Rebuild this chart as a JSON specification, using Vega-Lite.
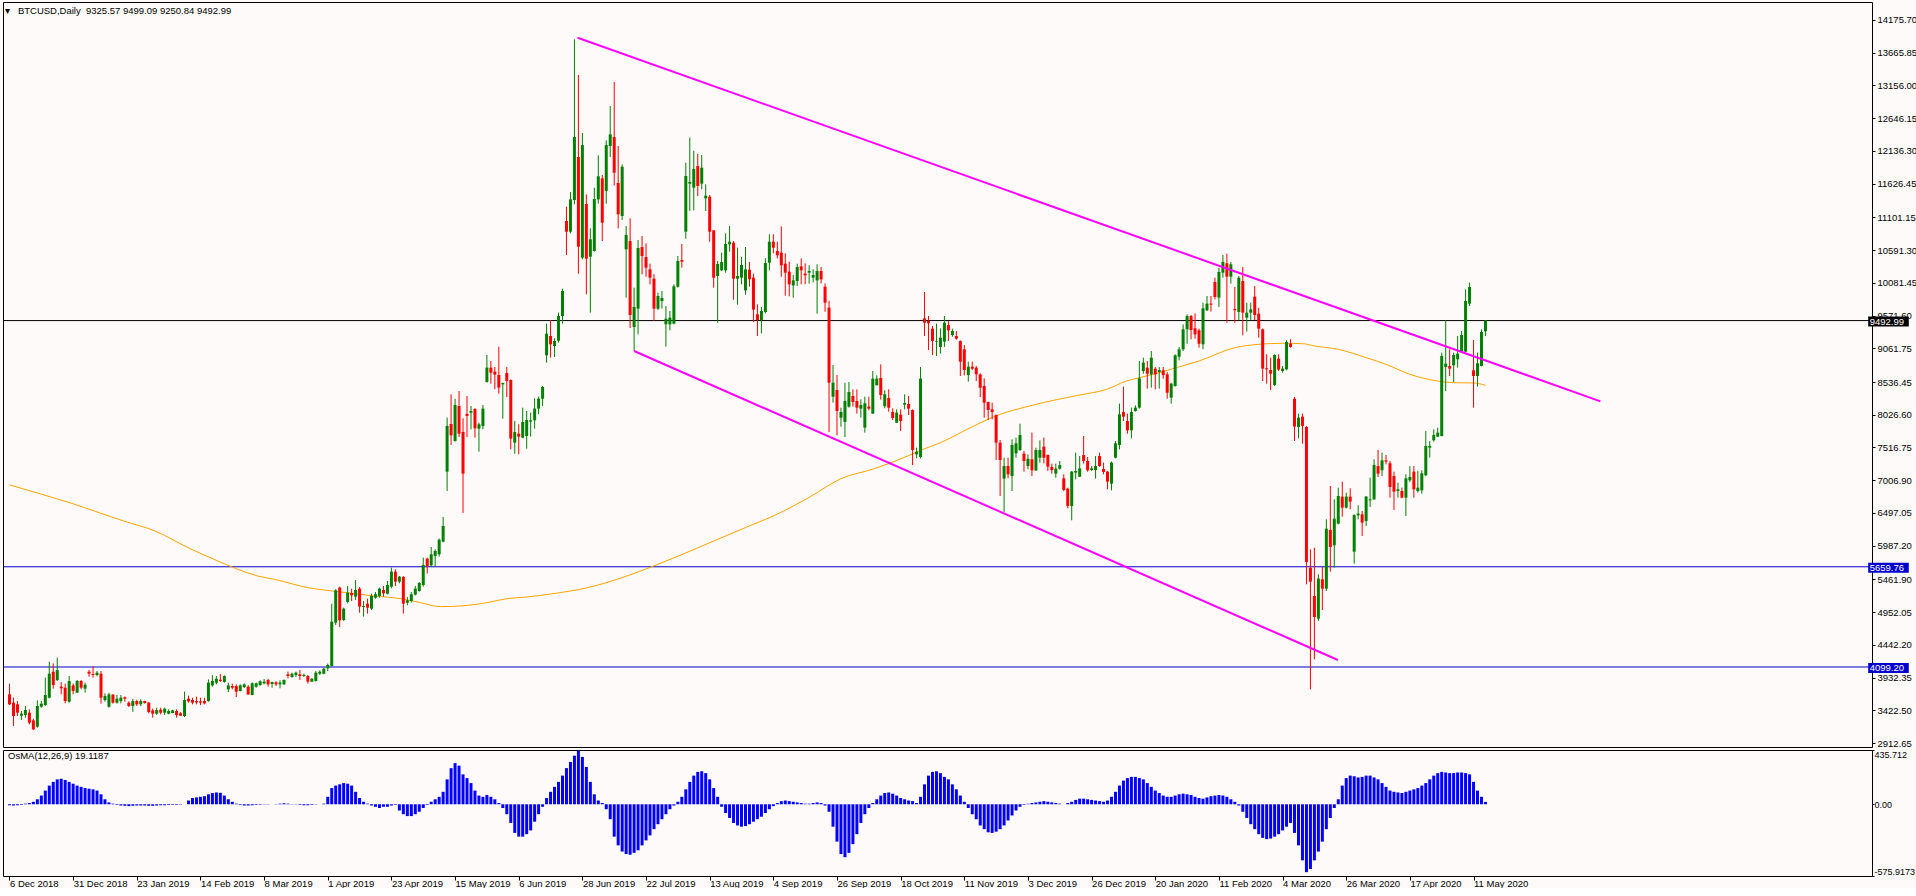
{
"$schema":"https://vega.github.io/schema/vega-lite/v6.json",
"background":"#FFFAFA",
"padding":{"left":2,"top":1,"right":0,"bottom":0},
"bounds":"flush",
"spacing":3,
"config":{"view":{"stroke":"#000000","strokeWidth":1},"axis":{"labelFont":"Liberation Sans","labelFontSize":9.5,"labelColor":"#000000","tickColor":"#000000","domain":false,"grid":false,"zindex":0},"title":{"font":"Liberation Sans","fontSize":9.5,"fontWeight":"normal","color":"#000000"}},
"datasets":{
"lines":[{"p":9492.99,"t":"9492.99","col":"#000000"},{"p":5659.76,"t":"5659.76","col":"#0000CD"},{"p":4099.2,"t":"4099.20","col":"#0000CD"}],
"trend":[{"g":"u","i":142.8,"p":13897},{"g":"u","i":399.9,"p":8235},{"g":"l","i":157.0,"p":9019},{"g":"l","i":333.9,"p":4208}],
"ma":[{"i":0,"v":6935},{"i":8,"v":6790},{"i":16,"v":6640},{"i":24,"v":6470},{"i":28.7,"v":6372},{"i":36.6,"v":6216},{"i":44.9,"v":5957},{"i":52.4,"v":5749},{"i":57.4,"v":5620},{"i":62.4,"v":5516},{"i":66.6,"v":5464},{"i":75,"v":5335},{"i":83.3,"v":5267},{"i":91.6,"v":5205},{"i":98.3,"v":5163},{"i":103.3,"v":5101},{"i":108.3,"v":5039},{"i":113.3,"v":5049},{"i":120,"v":5101},{"i":125,"v":5163},{"i":130,"v":5189},{"i":136.6,"v":5241},{"i":145,"v":5330},{"i":153,"v":5470},{"i":161,"v":5650},{"i":169,"v":5850},{"i":177,"v":6060},{"i":185,"v":6270},{"i":193,"v":6480},{"i":201,"v":6740},{"i":209,"v":7032},{"i":217.4,"v":7187},{"i":225.75,"v":7384},{"i":229,"v":7473},{"i":234,"v":7592},{"i":242.4,"v":7852},{"i":249,"v":8033},{"i":255.75,"v":8153},{"i":262.4,"v":8251},{"i":269,"v":8334},{"i":275.75,"v":8422},{"i":280.75,"v":8552},{"i":284,"v":8604},{"i":289,"v":8682},{"i":292.4,"v":8744},{"i":299,"v":8864},{"i":308,"v":9071},{"i":314,"v":9123},{"i":320,"v":9139},{"i":325,"v":9133},{"i":328,"v":9098},{"i":334,"v":9045},{"i":341,"v":8916},{"i":346,"v":8812},{"i":352,"v":8656},{"i":359,"v":8552},{"i":363,"v":8526},{"i":368,"v":8521},{"i":371,"v":8485}],
"bars":[
{"i":0,"o":3673,"h":3840,"l":3507,"c":3518,"v":-8},
{"i":1,"o":3544,"h":3621,"l":3180,"c":3336,"v":-10},
{"i":2,"o":3518,"h":3569,"l":3336,"c":3388,"v":-8},
{"i":3,"o":3341,"h":3414,"l":3274,"c":3372,"v":-5},
{"i":4,"o":3352,"h":3492,"l":3310,"c":3429,"v":5},
{"i":5,"o":3388,"h":3440,"l":3206,"c":3232,"v":10},
{"i":6,"o":3268,"h":3294,"l":3118,"c":3128,"v":20},
{"i":7,"o":3170,"h":3580,"l":3154,"c":3492,"v":40},
{"i":8,"o":3481,"h":3569,"l":3466,"c":3528,"v":70},
{"i":9,"o":3507,"h":3933,"l":3492,"c":3663,"v":110},
{"i":10,"o":3621,"h":4182,"l":3611,"c":3995,"v":150},
{"i":11,"o":4026,"h":4156,"l":3762,"c":3819,"v":180},
{"i":12,"o":3896,"h":4244,"l":3881,"c":4052,"v":200},
{"i":13,"o":3793,"h":3865,"l":3673,"c":3767,"v":205},
{"i":14,"o":3777,"h":3840,"l":3533,"c":3569,"v":195},
{"i":15,"o":3559,"h":3959,"l":3544,"c":3881,"v":180},
{"i":16,"o":3813,"h":3840,"l":3673,"c":3725,"v":165},
{"i":17,"o":3699,"h":3896,"l":3694,"c":3881,"v":150},
{"i":18,"o":3881,"h":3896,"l":3751,"c":3777,"v":140},
{"i":19,"o":3762,"h":3855,"l":3699,"c":3824,"v":130},
{"i":20,"o":4026,"h":4052,"l":3949,"c":3995,"v":125},
{"i":21,"o":3990,"h":4109,"l":3933,"c":3974,"v":120},
{"i":22,"o":3974,"h":4037,"l":3954,"c":4011,"v":110},
{"i":23,"o":3995,"h":4037,"l":3528,"c":3621,"v":80},
{"i":24,"o":3585,"h":3689,"l":3559,"c":3647,"v":40},
{"i":25,"o":3481,"h":3699,"l":3466,"c":3673,"v":15},
{"i":26,"o":3668,"h":3679,"l":3528,"c":3544,"v":5},
{"i":27,"o":3544,"h":3663,"l":3528,"c":3606,"v":-5},
{"i":28,"o":3569,"h":3663,"l":3533,"c":3621,"v":-10},
{"i":29,"o":3627,"h":3642,"l":3559,"c":3606,"v":-12},
{"i":30,"o":3544,"h":3564,"l":3476,"c":3492,"v":-15},
{"i":31,"o":3492,"h":3601,"l":3403,"c":3569,"v":-12},
{"i":32,"o":3569,"h":3590,"l":3492,"c":3518,"v":-10},
{"i":33,"o":3518,"h":3595,"l":3492,"c":3569,"v":-10},
{"i":34,"o":3569,"h":3575,"l":3528,"c":3538,"v":-10},
{"i":35,"o":3544,"h":3554,"l":3378,"c":3398,"v":-12},
{"i":36,"o":3424,"h":3450,"l":3310,"c":3372,"v":-12},
{"i":37,"o":3372,"h":3466,"l":3352,"c":3429,"v":-10},
{"i":38,"o":3434,"h":3466,"l":3362,"c":3388,"v":-8},
{"i":39,"o":3388,"h":3466,"l":3352,"c":3450,"v":-8},
{"i":40,"o":3372,"h":3440,"l":3362,"c":3414,"v":-6},
{"i":41,"o":3383,"h":3434,"l":3378,"c":3424,"v":-5},
{"i":42,"o":3414,"h":3440,"l":3310,"c":3352,"v":-5},
{"i":43,"o":3378,"h":3398,"l":3336,"c":3341,"v":-3},
{"i":44,"o":3336,"h":3715,"l":3320,"c":3585,"v":0},
{"i":45,"o":3606,"h":3653,"l":3544,"c":3564,"v":30},
{"i":46,"o":3585,"h":3621,"l":3518,"c":3544,"v":50},
{"i":47,"o":3569,"h":3637,"l":3518,"c":3549,"v":55},
{"i":48,"o":3564,"h":3621,"l":3507,"c":3544,"v":60},
{"i":49,"o":3569,"h":3621,"l":3518,"c":3533,"v":65},
{"i":50,"o":3569,"h":3907,"l":3559,"c":3855,"v":80},
{"i":51,"o":3813,"h":3974,"l":3793,"c":3881,"v":90},
{"i":52,"o":3855,"h":3959,"l":3829,"c":3917,"v":95},
{"i":53,"o":3902,"h":3990,"l":3865,"c":3881,"v":92},
{"i":54,"o":3865,"h":3969,"l":3855,"c":3959,"v":70},
{"i":55,"o":3751,"h":3855,"l":3710,"c":3813,"v":40},
{"i":56,"o":3803,"h":3840,"l":3751,"c":3777,"v":20},
{"i":57,"o":3803,"h":3829,"l":3632,"c":3715,"v":5},
{"i":58,"o":3725,"h":3829,"l":3720,"c":3813,"v":-5},
{"i":59,"o":3788,"h":3845,"l":3772,"c":3829,"v":-10},
{"i":60,"o":3793,"h":3819,"l":3663,"c":3673,"v":-10},
{"i":61,"o":3663,"h":3860,"l":3658,"c":3845,"v":-8},
{"i":62,"o":3793,"h":3855,"l":3777,"c":3845,"v":-5},
{"i":63,"o":3819,"h":3891,"l":3803,"c":3876,"v":-3},
{"i":64,"o":3845,"h":3912,"l":3829,"c":3870,"v":-2},
{"i":65,"o":3896,"h":3917,"l":3793,"c":3829,"v":-2},
{"i":66,"o":3834,"h":3870,"l":3777,"c":3865,"v":0},
{"i":67,"o":3860,"h":3876,"l":3803,"c":3829,"v":2},
{"i":68,"o":3830,"h":3892,"l":3767,"c":3856,"v":5},
{"i":69,"o":3830,"h":3907,"l":3819,"c":3897,"v":8},
{"i":70,"o":3985,"h":4027,"l":3923,"c":3959,"v":5},
{"i":71,"o":3944,"h":4011,"l":3933,"c":3995,"v":2},
{"i":72,"o":3975,"h":4027,"l":3944,"c":4011,"v":-2},
{"i":73,"o":3985,"h":4053,"l":3897,"c":3959,"v":-5},
{"i":74,"o":3959,"h":3995,"l":3944,"c":3975,"v":-8},
{"i":75,"o":3959,"h":3975,"l":3840,"c":3871,"v":-8},
{"i":76,"o":3871,"h":3923,"l":3866,"c":3918,"v":-5},
{"i":77,"o":3881,"h":4037,"l":3871,"c":4011,"v":-2},
{"i":78,"o":3995,"h":4047,"l":3975,"c":4027,"v":0},
{"i":79,"o":3995,"h":4089,"l":3985,"c":4073,"v":5},
{"i":80,"o":4079,"h":4151,"l":4037,"c":4131,"v":60},
{"i":81,"o":4115,"h":5085,"l":4105,"c":4805,"v":130},
{"i":82,"o":4790,"h":5309,"l":4753,"c":5293,"v":150},
{"i":83,"o":5335,"h":5350,"l":4722,"c":4826,"v":160},
{"i":84,"o":4831,"h":5023,"l":4816,"c":5008,"v":170},
{"i":85,"o":5111,"h":5360,"l":5091,"c":5257,"v":165},
{"i":86,"o":5252,"h":5319,"l":5127,"c":5215,"v":150},
{"i":87,"o":5195,"h":5454,"l":5143,"c":5298,"v":100},
{"i":88,"o":5319,"h":5345,"l":4945,"c":5039,"v":50},
{"i":89,"o":5034,"h":5127,"l":4883,"c":5049,"v":20},
{"i":90,"o":5085,"h":5163,"l":4930,"c":5023,"v":5},
{"i":91,"o":5008,"h":5241,"l":4987,"c":5205,"v":-10},
{"i":92,"o":5179,"h":5267,"l":5163,"c":5231,"v":-20},
{"i":93,"o":5205,"h":5335,"l":5179,"c":5319,"v":-30},
{"i":94,"o":5298,"h":5360,"l":5195,"c":5246,"v":-20},
{"i":95,"o":5241,"h":5438,"l":5231,"c":5376,"v":-20},
{"i":96,"o":5350,"h":5646,"l":5324,"c":5584,"v":-10},
{"i":97,"o":5584,"h":5620,"l":5360,"c":5428,"v":-5},
{"i":98,"o":5428,"h":5516,"l":5402,"c":5506,"v":-50},
{"i":99,"o":5501,"h":5516,"l":4930,"c":5085,"v":-80},
{"i":100,"o":5101,"h":5189,"l":5060,"c":5137,"v":-95},
{"i":101,"o":5127,"h":5267,"l":5101,"c":5231,"v":-95},
{"i":102,"o":5226,"h":5360,"l":5215,"c":5319,"v":-80},
{"i":103,"o":5283,"h":5423,"l":5272,"c":5407,"v":-60},
{"i":104,"o":5376,"h":5802,"l":5350,"c":5687,"v":-30},
{"i":105,"o":5786,"h":5802,"l":5553,"c":5672,"v":-5},
{"i":106,"o":5682,"h":5968,"l":5662,"c":5854,"v":20},
{"i":107,"o":5828,"h":5931,"l":5662,"c":5906,"v":40},
{"i":108,"o":5854,"h":6098,"l":5817,"c":6082,"v":60},
{"i":109,"o":6051,"h":6435,"l":6040,"c":6295,"v":100},
{"i":110,"o":7141,"h":7982,"l":6840,"c":7852,"v":200},
{"i":111,"o":7883,"h":8345,"l":7556,"c":7706,"v":290},
{"i":112,"o":7618,"h":8277,"l":7608,"c":8179,"v":330},
{"i":113,"o":8163,"h":8397,"l":7680,"c":7732,"v":310},
{"i":114,"o":7758,"h":7971,"l":6497,"c":7110,"v":240},
{"i":115,"o":8039,"h":8319,"l":7680,"c":8008,"v":210},
{"i":116,"o":8059,"h":8163,"l":7800,"c":8085,"v":170},
{"i":117,"o":8117,"h":8127,"l":7670,"c":7815,"v":110},
{"i":118,"o":7810,"h":7904,"l":7452,"c":7878,"v":70},
{"i":119,"o":7852,"h":8179,"l":7800,"c":8122,"v":60},
{"i":120,"o":8537,"h":8957,"l":8527,"c":8760,"v":75},
{"i":121,"o":8760,"h":8864,"l":8511,"c":8682,"v":60},
{"i":122,"o":8698,"h":8770,"l":8423,"c":8651,"v":40},
{"i":123,"o":8646,"h":9087,"l":8355,"c":8449,"v":10},
{"i":124,"o":8500,"h":8526,"l":7966,"c":8521,"v":-30},
{"i":125,"o":8677,"h":8770,"l":8303,"c":8552,"v":-80},
{"i":126,"o":8568,"h":8578,"l":7488,"c":7655,"v":-150},
{"i":127,"o":7592,"h":7930,"l":7421,"c":7758,"v":-230},
{"i":128,"o":7732,"h":7878,"l":7411,"c":7686,"v":-260},
{"i":129,"o":7670,"h":8137,"l":7660,"c":7914,"v":-260},
{"i":130,"o":7696,"h":8085,"l":7499,"c":7945,"v":-240},
{"i":131,"o":7919,"h":8059,"l":7686,"c":7940,"v":-210},
{"i":132,"o":7940,"h":8283,"l":7810,"c":8122,"v":-140},
{"i":133,"o":8122,"h":8309,"l":8034,"c":8277,"v":-80},
{"i":134,"o":8277,"h":8475,"l":8163,"c":8459,"v":-20},
{"i":135,"o":8952,"h":9445,"l":8838,"c":9289,"v":50},
{"i":136,"o":9253,"h":9497,"l":8916,"c":9123,"v":100},
{"i":137,"o":9097,"h":9216,"l":8926,"c":9175,"v":140},
{"i":138,"o":9180,"h":9616,"l":9150,"c":9564,"v":180},
{"i":139,"o":9564,"h":9990,"l":9445,"c":9953,"v":230},
{"i":140,"o":11043,"h":11266,"l":10514,"c":10877,"v":290},
{"i":141,"o":10877,"h":11495,"l":10850,"c":11380,"v":340},
{"i":142,"o":11370,"h":13872,"l":11303,"c":12351,"v":390},
{"i":143,"o":12040,"h":13316,"l":10223,"c":10643,"v":430},
{"i":144,"o":10472,"h":12413,"l":10446,"c":12226,"v":380},
{"i":145,"o":11308,"h":11458,"l":9901,"c":10457,"v":300},
{"i":146,"o":10488,"h":10929,"l":9616,"c":10758,"v":180},
{"i":147,"o":10576,"h":11562,"l":10566,"c":11386,"v":80},
{"i":148,"o":11380,"h":12065,"l":11313,"c":11739,"v":30},
{"i":149,"o":11707,"h":11759,"l":10732,"c":11017,"v":10},
{"i":150,"o":11510,"h":12299,"l":11313,"c":12226,"v":-40},
{"i":151,"o":12211,"h":12834,"l":12040,"c":12392,"v":-120},
{"i":152,"o":12351,"h":13207,"l":11598,"c":11796,"v":-260},
{"i":153,"o":11635,"h":12211,"l":10929,"c":11147,"v":-330},
{"i":154,"o":11121,"h":11925,"l":11059,"c":11889,"v":-380},
{"i":155,"o":10602,"h":10965,"l":9849,"c":10825,"v":-400},
{"i":156,"o":10732,"h":11085,"l":9377,"c":9580,"v":-405},
{"i":157,"o":9393,"h":10005,"l":9019,"c":9704,"v":-390},
{"i":158,"o":9678,"h":10747,"l":9279,"c":10623,"v":-370},
{"i":159,"o":10638,"h":10810,"l":10213,"c":10498,"v":-330},
{"i":160,"o":10483,"h":10695,"l":10176,"c":10317,"v":-290},
{"i":161,"o":10290,"h":10379,"l":10057,"c":10161,"v":-250},
{"i":162,"o":10145,"h":10213,"l":9486,"c":9678,"v":-200},
{"i":163,"o":9678,"h":9927,"l":9657,"c":9875,"v":-160},
{"i":164,"o":9797,"h":9953,"l":9678,"c":9844,"v":-120},
{"i":165,"o":9434,"h":9720,"l":9087,"c":9522,"v":-80},
{"i":166,"o":9434,"h":9642,"l":9341,"c":9538,"v":-40},
{"i":167,"o":9445,"h":10057,"l":9434,"c":10026,"v":-10},
{"i":168,"o":10021,"h":10498,"l":10005,"c":10420,"v":20},
{"i":169,"o":10436,"h":10685,"l":10317,"c":10410,"v":60},
{"i":170,"o":10877,"h":11951,"l":10768,"c":11744,"v":120},
{"i":171,"o":11624,"h":12341,"l":11199,"c":11650,"v":180},
{"i":172,"o":11562,"h":12138,"l":11209,"c":11853,"v":230},
{"i":173,"o":11899,"h":12091,"l":11432,"c":11588,"v":260},
{"i":174,"o":11624,"h":12071,"l":11536,"c":11873,"v":265},
{"i":175,"o":11396,"h":11614,"l":11199,"c":11438,"v":250},
{"i":176,"o":11422,"h":11448,"l":10721,"c":10877,"v":200},
{"i":177,"o":10898,"h":10898,"l":10005,"c":10161,"v":130},
{"i":178,"o":10187,"h":10420,"l":9460,"c":10374,"v":60},
{"i":179,"o":10275,"h":10550,"l":10265,"c":10405,"v":-20},
{"i":180,"o":10275,"h":10851,"l":10239,"c":10685,"v":-70},
{"i":181,"o":10680,"h":10965,"l":10566,"c":10721,"v":-110},
{"i":182,"o":10706,"h":10732,"l":9818,"c":10145,"v":-150},
{"i":183,"o":10145,"h":10628,"l":9740,"c":10187,"v":-170},
{"i":184,"o":10161,"h":10483,"l":10057,"c":10358,"v":-180},
{"i":185,"o":9964,"h":10638,"l":9896,"c":10290,"v":-175},
{"i":186,"o":10285,"h":10405,"l":10021,"c":10135,"v":-160},
{"i":187,"o":10161,"h":10223,"l":9470,"c":9663,"v":-140},
{"i":188,"o":9590,"h":9746,"l":9253,"c":9502,"v":-120},
{"i":189,"o":9502,"h":9704,"l":9294,"c":9642,"v":-100},
{"i":190,"o":9626,"h":10462,"l":9605,"c":10389,"v":-70},
{"i":191,"o":10394,"h":10836,"l":10275,"c":10721,"v":-40},
{"i":192,"o":10721,"h":10836,"l":10540,"c":10628,"v":-15},
{"i":193,"o":10576,"h":10721,"l":10462,"c":10509,"v":10},
{"i":194,"o":10550,"h":10960,"l":10176,"c":10353,"v":25},
{"i":195,"o":10379,"h":10540,"l":9880,"c":10239,"v":30},
{"i":196,"o":10254,"h":10410,"l":9870,"c":10057,"v":25},
{"i":197,"o":10041,"h":10202,"l":9849,"c":10119,"v":20},
{"i":198,"o":10109,"h":10379,"l":10031,"c":10327,"v":15},
{"i":199,"o":10337,"h":10462,"l":10057,"c":10275,"v":10},
{"i":200,"o":10223,"h":10384,"l":10057,"c":10197,"v":5},
{"i":201,"o":10239,"h":10353,"l":10067,"c":10265,"v":5},
{"i":202,"o":10161,"h":10290,"l":10088,"c":10202,"v":10},
{"i":203,"o":10119,"h":10369,"l":9600,"c":10265,"v":15},
{"i":204,"o":10265,"h":10327,"l":10072,"c":10135,"v":10},
{"i":205,"o":10021,"h":10072,"l":9631,"c":9771,"v":-10},
{"i":206,"o":9694,"h":9800,"l":7758,"c":8526,"v":-60},
{"i":207,"o":8308,"h":8801,"l":8215,"c":8526,"v":-180},
{"i":208,"o":8412,"h":8646,"l":7706,"c":8085,"v":-300},
{"i":209,"o":7981,"h":8137,"l":7841,"c":8070,"v":-400},
{"i":210,"o":7914,"h":8526,"l":7680,"c":8241,"v":-425},
{"i":211,"o":8153,"h":8537,"l":8137,"c":8381,"v":-390},
{"i":212,"o":8319,"h":8422,"l":8153,"c":8225,"v":-320},
{"i":213,"o":8241,"h":8422,"l":8044,"c":8137,"v":-240},
{"i":214,"o":8122,"h":8267,"l":7981,"c":8179,"v":-150},
{"i":215,"o":7826,"h":8308,"l":7748,"c":8205,"v":-80},
{"i":216,"o":8153,"h":8308,"l":8096,"c":8122,"v":-30},
{"i":217,"o":8044,"h":8708,"l":8044,"c":8589,"v":10},
{"i":218,"o":8485,"h":8640,"l":8485,"c":8589,"v":40},
{"i":219,"o":8599,"h":8812,"l":8262,"c":8334,"v":70},
{"i":220,"o":8158,"h":8407,"l":8127,"c":8345,"v":90},
{"i":221,"o":8288,"h":8422,"l":8075,"c":8137,"v":95},
{"i":222,"o":8070,"h":8127,"l":7945,"c":7976,"v":85},
{"i":223,"o":7903,"h":8111,"l":7898,"c":8059,"v":70},
{"i":224,"o":8028,"h":8111,"l":7774,"c":7929,"v":50},
{"i":225,"o":8184,"h":8345,"l":8111,"c":8210,"v":40},
{"i":226,"o":8194,"h":8319,"l":8023,"c":8122,"v":30},
{"i":227,"o":8101,"h":8111,"l":7244,"c":7478,"v":25},
{"i":228,"o":7410,"h":7514,"l":7348,"c":7452,"v":10},
{"i":229,"o":7369,"h":8770,"l":7348,"c":8589,"v":60},
{"i":230,"o":9528,"h":9938,"l":9253,"c":9461,"v":160},
{"i":231,"o":9486,"h":9564,"l":9035,"c":9450,"v":230},
{"i":232,"o":9367,"h":9409,"l":8957,"c":9175,"v":260},
{"i":233,"o":9165,"h":9445,"l":8941,"c":9175,"v":265},
{"i":234,"o":9082,"h":9372,"l":8978,"c":9227,"v":250},
{"i":235,"o":9165,"h":9564,"l":9082,"c":9461,"v":220},
{"i":236,"o":9424,"h":9486,"l":9175,"c":9341,"v":200},
{"i":237,"o":9268,"h":9367,"l":9242,"c":9331,"v":160},
{"i":238,"o":9253,"h":9331,"l":9196,"c":9211,"v":120},
{"i":239,"o":9175,"h":9185,"l":8630,"c":8853,"v":70},
{"i":240,"o":9045,"h":9113,"l":8640,"c":8723,"v":20},
{"i":241,"o":8646,"h":8853,"l":8542,"c":8775,"v":-30},
{"i":242,"o":8775,"h":8853,"l":8723,"c":8744,"v":-80},
{"i":243,"o":8760,"h":8786,"l":8552,"c":8656,"v":-120},
{"i":244,"o":8656,"h":8672,"l":8303,"c":8448,"v":-170},
{"i":245,"o":8474,"h":8594,"l":7981,"c":8215,"v":-200},
{"i":246,"o":8225,"h":8231,"l":7945,"c":8101,"v":-225},
{"i":247,"o":8111,"h":8215,"l":7955,"c":8070,"v":-230},
{"i":248,"o":8023,"h":8033,"l":7322,"c":7592,"v":-220},
{"i":249,"o":7592,"h":7634,"l":6762,"c":7322,"v":-200},
{"i":250,"o":7032,"h":7358,"l":6513,"c":7229,"v":-170},
{"i":251,"o":7229,"h":7358,"l":7037,"c":7099,"v":-130},
{"i":252,"o":7073,"h":7644,"l":6839,"c":7556,"v":-90},
{"i":253,"o":7426,"h":7670,"l":7358,"c":7582,"v":-50},
{"i":254,"o":7478,"h":7888,"l":7462,"c":7712,"v":-20},
{"i":255,"o":7421,"h":7462,"l":7141,"c":7307,"v":-5},
{"i":256,"o":7229,"h":7410,"l":7177,"c":7343,"v":5},
{"i":257,"o":7333,"h":7748,"l":7073,"c":7161,"v":10},
{"i":258,"o":7161,"h":7514,"l":7151,"c":7478,"v":15},
{"i":259,"o":7358,"h":7628,"l":7281,"c":7478,"v":20},
{"i":260,"o":7530,"h":7670,"l":7270,"c":7358,"v":25},
{"i":261,"o":7400,"h":7410,"l":7151,"c":7218,"v":20},
{"i":262,"o":7213,"h":7265,"l":7110,"c":7166,"v":15},
{"i":263,"o":7110,"h":7265,"l":7047,"c":7187,"v":10},
{"i":264,"o":7187,"h":7307,"l":7172,"c":7244,"v":5},
{"i":265,"o":7037,"h":7099,"l":6839,"c":6855,"v":0},
{"i":266,"o":6876,"h":6891,"l":6570,"c":6606,"v":10},
{"i":267,"o":6606,"h":7151,"l":6383,"c":7141,"v":20},
{"i":268,"o":7125,"h":7436,"l":7021,"c":7151,"v":35},
{"i":269,"o":7063,"h":7384,"l":7058,"c":7192,"v":45},
{"i":270,"o":7400,"h":7696,"l":7265,"c":7307,"v":45},
{"i":271,"o":7307,"h":7369,"l":7141,"c":7161,"v":40},
{"i":272,"o":7166,"h":7229,"l":7151,"c":7192,"v":35},
{"i":273,"o":7166,"h":7384,"l":7032,"c":7229,"v":30},
{"i":274,"o":7384,"h":7436,"l":7213,"c":7229,"v":25},
{"i":275,"o":7182,"h":7281,"l":7099,"c":7135,"v":20},
{"i":276,"o":7141,"h":7151,"l":6865,"c":6985,"v":30},
{"i":277,"o":6954,"h":7296,"l":6850,"c":7281,"v":60},
{"i":278,"o":7358,"h":7618,"l":7348,"c":7582,"v":100},
{"i":279,"o":7556,"h":8199,"l":7488,"c":8033,"v":150},
{"i":280,"o":8070,"h":8464,"l":7929,"c":7997,"v":190},
{"i":281,"o":7929,"h":8044,"l":7732,"c":7784,"v":210},
{"i":282,"o":7784,"h":8137,"l":7660,"c":8070,"v":220},
{"i":283,"o":8085,"h":8173,"l":8075,"c":8137,"v":220},
{"i":284,"o":8137,"h":8864,"l":8122,"c":8594,"v":210},
{"i":285,"o":8708,"h":8915,"l":8666,"c":8838,"v":200},
{"i":286,"o":8760,"h":8864,"l":8433,"c":8666,"v":170},
{"i":287,"o":8656,"h":9019,"l":8448,"c":8915,"v":140},
{"i":288,"o":8744,"h":8770,"l":8422,"c":8656,"v":110},
{"i":289,"o":8692,"h":8770,"l":8433,"c":8723,"v":90},
{"i":290,"o":8718,"h":8770,"l":8589,"c":8646,"v":70},
{"i":291,"o":8656,"h":8692,"l":8277,"c":8370,"v":60},
{"i":292,"o":8293,"h":8526,"l":8199,"c":8511,"v":60},
{"i":293,"o":8474,"h":8967,"l":8464,"c":8952,"v":70},
{"i":294,"o":8931,"h":9082,"l":8874,"c":9045,"v":80},
{"i":295,"o":9045,"h":9434,"l":9019,"c":9357,"v":85},
{"i":296,"o":9357,"h":9590,"l":9133,"c":9564,"v":80},
{"i":297,"o":9564,"h":9580,"l":9201,"c":9346,"v":75},
{"i":298,"o":9372,"h":9606,"l":9211,"c":9279,"v":60},
{"i":299,"o":9341,"h":9367,"l":9071,"c":9133,"v":50},
{"i":300,"o":9123,"h":9772,"l":9046,"c":9684,"v":45},
{"i":301,"o":9653,"h":9876,"l":9642,"c":9757,"v":55},
{"i":302,"o":9757,"h":9876,"l":9632,"c":9741,"v":65},
{"i":303,"o":10094,"h":10161,"l":9824,"c":9860,"v":70},
{"i":304,"o":9850,"h":10317,"l":9705,"c":10250,"v":75},
{"i":305,"o":10239,"h":10514,"l":10161,"c":10405,"v":70},
{"i":306,"o":10385,"h":10535,"l":9461,"c":10177,"v":60},
{"i":307,"o":10177,"h":10405,"l":10068,"c":10369,"v":40},
{"i":308,"o":9674,"h":10016,"l":9461,"c":9653,"v":20},
{"i":309,"o":9627,"h":10187,"l":9497,"c":10161,"v":-10},
{"i":310,"o":10109,"h":10327,"l":9264,"c":9616,"v":-60},
{"i":311,"o":9539,"h":9772,"l":9321,"c":9616,"v":-110},
{"i":312,"o":9616,"h":9772,"l":9497,"c":9668,"v":-160},
{"i":313,"o":9866,"h":10032,"l":9497,"c":9580,"v":-200},
{"i":314,"o":9601,"h":9694,"l":9227,"c":9367,"v":-240},
{"i":315,"o":9357,"h":9370,"l":8552,"c":8745,"v":-270},
{"i":316,"o":8750,"h":8968,"l":8511,"c":8734,"v":-280},
{"i":317,"o":8724,"h":8916,"l":8412,"c":8667,"v":-275},
{"i":318,"o":8490,"h":8968,"l":8475,"c":8957,"v":-260},
{"i":319,"o":8900,"h":8968,"l":8708,"c":8729,"v":-240},
{"i":320,"o":8708,"h":8786,"l":8682,"c":8745,"v":-210},
{"i":321,"o":8734,"h":9186,"l":8718,"c":9160,"v":-180},
{"i":322,"o":9134,"h":9201,"l":9071,"c":9082,"v":-150},
{"i":323,"o":8277,"h":8303,"l":7618,"c":7842,"v":-230},
{"i":324,"o":7836,"h":8044,"l":7660,"c":7982,"v":-330},
{"i":325,"o":7997,"h":8044,"l":7577,"c":7852,"v":-450},
{"i":326,"o":7836,"h":7852,"l":5387,"c":5734,"v":-545},
{"i":327,"o":5646,"h":5931,"l":3752,"c":5428,"v":-520},
{"i":328,"o":5205,"h":5957,"l":4219,"c":4878,"v":-450},
{"i":329,"o":4852,"h":5542,"l":4816,"c":5475,"v":-380},
{"i":330,"o":5464,"h":5657,"l":4987,"c":5319,"v":-300},
{"i":331,"o":5319,"h":6399,"l":5283,"c":6253,"v":-200},
{"i":332,"o":6233,"h":6918,"l":5584,"c":5968,"v":-110},
{"i":333,"o":5994,"h":6710,"l":5646,"c":6409,"v":-30},
{"i":334,"o":6331,"h":6892,"l":6321,"c":6762,"v":40},
{"i":335,"o":6752,"h":6985,"l":6440,"c":6580,"v":150},
{"i":336,"o":6580,"h":6814,"l":6570,"c":6752,"v":210},
{"i":337,"o":6752,"h":6881,"l":6554,"c":6674,"v":230},
{"i":338,"o":5895,"h":6476,"l":5708,"c":6466,"v":225},
{"i":339,"o":6461,"h":6617,"l":6399,"c":6487,"v":215},
{"i":340,"o":6476,"h":6528,"l":6139,"c":6347,"v":220},
{"i":341,"o":6373,"h":6762,"l":6295,"c":6752,"v":230},
{"i":342,"o":6695,"h":7047,"l":6591,"c":6710,"v":230},
{"i":343,"o":6710,"h":7333,"l":6700,"c":7245,"v":215},
{"i":344,"o":7229,"h":7478,"l":7058,"c":7110,"v":200},
{"i":345,"o":7162,"h":7437,"l":7073,"c":7317,"v":170},
{"i":346,"o":7317,"h":7400,"l":7255,"c":7297,"v":140},
{"i":347,"o":7271,"h":7307,"l":6736,"c":6902,"v":110},
{"i":348,"o":7073,"h":7141,"l":6544,"c":6829,"v":100},
{"i":349,"o":6840,"h":6969,"l":6736,"c":6866,"v":95},
{"i":350,"o":6840,"h":6892,"l":6726,"c":6736,"v":90},
{"i":351,"o":6736,"h":7099,"l":6450,"c":7037,"v":100},
{"i":352,"o":7006,"h":7224,"l":6980,"c":7058,"v":110},
{"i":353,"o":7141,"h":7229,"l":6736,"c":6866,"v":120},
{"i":354,"o":6840,"h":7151,"l":6814,"c":6892,"v":130},
{"i":355,"o":6850,"h":7162,"l":6798,"c":7115,"v":150},
{"i":356,"o":7084,"h":7774,"l":7073,"c":7540,"v":170},
{"i":357,"o":7514,"h":7618,"l":7359,"c":7540,"v":200},
{"i":358,"o":7629,"h":7800,"l":7608,"c":7712,"v":230},
{"i":359,"o":7686,"h":7826,"l":7681,"c":7748,"v":250},
{"i":360,"o":7696,"h":8994,"l":7690,"c":8942,"v":260},
{"i":361,"o":8770,"h":9497,"l":8397,"c":8822,"v":255},
{"i":362,"o":8786,"h":9046,"l":8630,"c":8745,"v":250},
{"i":363,"o":8796,"h":8994,"l":8537,"c":8957,"v":250},
{"i":364,"o":8890,"h":9253,"l":8760,"c":8978,"v":255},
{"i":365,"o":9009,"h":9331,"l":8994,"c":9269,"v":255},
{"i":366,"o":9009,"h":9980,"l":8994,"c":9798,"v":250},
{"i":367,"o":9757,"h":10084,"l":9720,"c":10016,"v":240},
{"i":368,"o":8719,"h":9191,"l":8137,"c":8630,"v":180},
{"i":369,"o":8630,"h":8994,"l":8464,"c":8828,"v":110},
{"i":370,"o":8786,"h":9357,"l":8780,"c":9315,"v":60},
{"i":371,"o":9325.57,"h":9499.09,"l":9250.84,"c":9492.99,"v":19.1187}
]},
"vconcat":[
{
"width":1869,"height":745,
"title":{"text":"▾\u00a0\u00a0\u00a0BTCUSD,Daily\u00a0\u00a09325.57 9499.09 9250.84 9492.99","anchor":"start","frame":"group","offset":-21,"dx":2,"baseline":"alphabetic","fontSize":9.5},
"layer":[
{"data":{"name":"lines"},"mark":{"type":"rule","strokeWidth":1},
"encoding":{"y":{"field":"p","type":"quantitative","scale":{"domain":[2853.6,14453],"nice":false,"zero":false},
"axis":{"orient":"right","title":null,"values":[14175.70,13665.85,13156.00,12646.15,12136.30,11626.45,11101.15,10591.30,10081.45,9571.60,9061.75,8536.45,8026.60,7516.75,7006.90,6497.05,5987.20,5461.90,4952.05,4442.20,3932.35,3422.50,2912.65],"tickCount":100,"format":".2f","tickSize":3,"labelPadding":2,"labelFlush":false,"labelOverlap":false,"zindex":0}},
"color":{"field":"col","type":"nominal","scale":null,"legend":null}}},
{"data":{"name":"ma"},"mark":{"type":"line","color":"#FFA500","strokeWidth":1,"interpolate":"monotone"},
"encoding":{"x":{"field":"i","type":"quantitative","scale":{"domain":[-0.375,466.9],"nice":false,"zero":false},"axis":null},
"y":{"field":"v","type":"quantitative","scale":{"domain":[2853.6,14453],"nice":false,"zero":false}}}},
{"data":{"name":"bars"},"mark":{"type":"rule","strokeWidth":1},
"encoding":{"x":{"field":"i","type":"quantitative","scale":{"domain":[-0.375,466.9],"nice":false,"zero":false},"axis":null},
"y":{"field":"l","type":"quantitative","scale":{"domain":[2853.6,14453],"nice":false,"zero":false}},"y2":{"field":"h"},
"color":{"condition":{"test":"datum.c >= datum.o","value":"#008000"},"value":"#FF0000"}}},
{"data":{"name":"bars"},"mark":{"type":"bar","size":3},
"encoding":{"x":{"field":"i","type":"quantitative","scale":{"domain":[-0.375,466.9],"nice":false,"zero":false},"axis":null},
"y":{"field":"o","type":"quantitative","scale":{"domain":[2853.6,14453],"nice":false,"zero":false}},"y2":{"field":"c"},
"color":{"condition":{"test":"datum.c >= datum.o","value":"#008000"},"value":"#FF0000"}}},
{"data":{"name":"trend"},"mark":{"type":"line","color":"#FF00FF","strokeWidth":2},
"encoding":{"x":{"field":"i","type":"quantitative","scale":{"domain":[-0.375,466.9],"nice":false,"zero":false},"axis":null},
"y":{"field":"p","type":"quantitative","scale":{"domain":[2853.6,14453],"nice":false,"zero":false}},"detail":{"field":"g"}}},
{"data":{"name":"lines"},"mark":{"type":"rule","strokeWidth":10,"strokeCap":"butt","yOffset":1},
"encoding":{"x":{"datum":467.2,"type":"quantitative","scale":{"domain":[-0.375,466.9],"nice":false,"zero":false},"axis":null},"x2":{"datum":477.4},
"y":{"field":"p","type":"quantitative","scale":{"domain":[2853.6,14453],"nice":false,"zero":false}},
"color":{"field":"col","type":"nominal","scale":null,"legend":null}}},
{"data":{"name":"lines"},"mark":{"type":"text","align":"left","baseline":"middle","dx":1.5,"dy":1,"font":"Liberation Sans","fontSize":9.5,"color":"#FFFFFF"},
"encoding":{"x":{"datum":467.2,"type":"quantitative","scale":{"domain":[-0.375,466.9],"nice":false,"zero":false},"axis":null},
"y":{"field":"p","type":"quantitative","scale":{"domain":[2853.6,14453],"nice":false,"zero":false}},"text":{"field":"t"}}}
]
},
{
"width":1869,"height":126,
"title":{"text":"OsMA(12,26,9) 19.1187","anchor":"start","frame":"group","offset":-19,"dx":5,"baseline":"alphabetic","fontSize":9.5},
"data":{"name":"bars"},
"mark":{"type":"bar","size":3,"color":"#0000FF"},
"encoding":{
"x":{"field":"i","type":"quantitative","scale":{"domain":[-0.375,466.9],"nice":false,"zero":false},
"axis":{"orient":"bottom","title":null,"values":[0,16,32,48,64,80,96,112,128,144,160,176,192,208,224,240,256,272,288,304,320,336,352,368],"tickCount":100,
"labelExpr":"['6 Dec 2018','31 Dec 2018','23 Jan 2019','14 Feb 2019','8 Mar 2019','1 Apr 2019','23 Apr 2019','15 May 2019','6 Jun 2019','28 Jun 2019','22 Jul 2019','13 Aug 2019','4 Sep 2019','26 Sep 2019','18 Oct 2019','11 Nov 2019','3 Dec 2019','26 Dec 2019','20 Jan 2020','11 Feb 2020','4 Mar 2020','26 Mar 2020','17 Apr 2020','11 May 2020'][round(datum.value/16)]",
"tickSize":4,"labelAlign":"left","labelDx":2,"labelPadding":-2,"labelFlush":false,"labelOverlap":false}},
"y":{"field":"v","type":"quantitative","scale":{"domain":[-575.9173,435.712],"nice":false,"zero":false},
"axis":{"orient":"right","title":null,"values":[435.712,0,-575.9173],"tickCount":10,"labelExpr":"datum.value > 1 ? '435.712' : (datum.value < -1 ? '-575.9173' : '0.00')","tickSize":2,"labelPadding":0,"labelFontSize":9,"labelFlush":true,"labelOverlap":false}},
"y2":{"datum":0}
}
}
]
}
